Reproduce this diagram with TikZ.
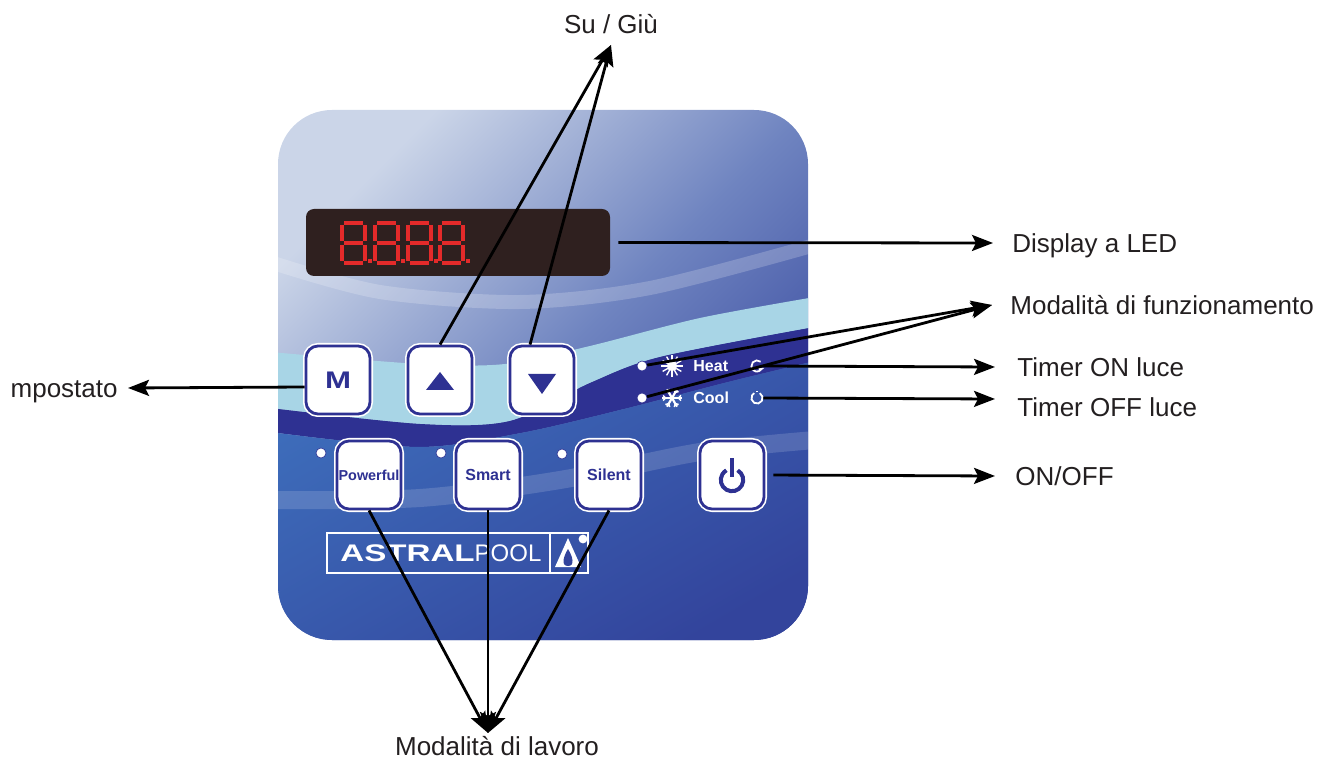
\documentclass[tikz,border=0pt]{standalone}
\usepackage{fontspec}
\setmainfont{Liberation Sans}
\usepackage{graphicx}
\usetikzlibrary{arrows.meta}

\definecolor{blunotte}{HTML}{2E3192}
\definecolor{azzurro}{HTML}{A8D5E6}
\definecolor{cielo}{HTML}{CBD5E8}
\definecolor{mare}{HTML}{6F84C0}
\definecolor{fondale}{HTML}{33449C}
\definecolor{onda}{HTML}{3D6CBA}
\definecolor{schermo}{HTML}{2F201F}
\definecolor{rossoled}{HTML}{E42A2A}
\definecolor{scritta}{HTML}{231F20}

\tikzset{
  tasto/.style={draw=blunotte, line width=1.4pt, fill=white, rounded corners=6pt,
    minimum width=32pt, minimum height=34pt, inner sep=0pt,
    preaction={draw=white, line width=3pt},
    text=blunotte, font=\fontsize{8}{9}\selectfont\bfseries},
  freccia/.style={draw=black, line width=1.4pt, -{Stealth[length=10.5pt,width=8pt,inset=2pt]}},
  etichetta/.style={text=scritta, font=\fontsize{13}{15}\selectfont,
    inner sep=0pt, text height=9.3pt, text depth=0pt},
  spia/.style={circle, fill=white, draw=blunotte, line width=.3pt,
    inner sep=0pt, minimum size=5pt},
  segmento/.style={draw=rossoled, line width=2pt},
  icona/.style={draw=white, line width=.9pt},
}

\begin{document}
\begin{tikzpicture}[x=0.5pt, y=-0.5pt]
  \useasboundingbox (0,0) rectangle (1321,758);

  %disegno pannello
  \shade[rounded corners=27pt, top color=cielo, bottom color=fondale, middle color=mare, shading angle=45]
    (278,110) rectangle (808,640);
  \begin{scope}
    \clip[rounded corners=27pt] (278,110) rectangle (808,640);
    %onde: fascia azzurra, fascia blu, fondo
    \fill[azzurro] plot[smooth] coordinates {(270,352) (420,364) (505,364) (590,346) (700,318) (815,297)}
      -- plot[smooth] coordinates {(815,327) (660,357) (590,383) (510,421) (420,424) (270,408)} -- cycle;
    \fill[blunotte] plot[smooth] coordinates {(270,408) (420,424) (510,421) (590,383) (660,357) (815,327)}
      -- plot[smooth] coordinates {(815,361) (728,382) (624,409) (521,433) (418,447) (270,432)} -- cycle;
    \shade[top color=onda, bottom color=fondale, shading angle=30]
      plot[smooth] coordinates {(270,432) (418,447) (521,433) (624,409) (728,382) (815,361)}
      -- (815,650) -- (270,650) -- cycle;
    \draw[white, opacity=.15, line width=9pt] plot[smooth] coordinates {(270,500) (420,498) (560,480) (700,452) (815,440)};
    \draw[white, opacity=.2, line width=7pt] plot[smooth] coordinates {(270,262) (380,292) (520,302) (650,288) (815,245)};
  \end{scope}

  %display a led
  \node[fill=schermo, rounded corners=4pt, minimum width=152pt, minimum height=33.5pt, inner sep=0pt] (display) at (458,242.5) {};
  \foreach \x in {342,375,408,440} {
    \draw[segmento] (\x+2,223) -- ++(19,0);
    \draw[segmento] (\x+2,243) -- ++(19,0);
    \draw[segmento] (\x+2,263) -- ++(19,0);
    \draw[segmento] (\x,225) -- ++(0,16) (\x+23,225) -- ++(0,16);
    \draw[segmento] (\x,245) -- ++(0,16) (\x+23,245) -- ++(0,16);
    \fill[rossoled] (\x+26,259) rectangle ++(4,4);
  }

  %tasti
  \node[tasto, font=\fontsize{12}{13}\selectfont\bfseries] (tastoM) at (338,380) {\scalebox{1.3}[1]{M}};
  \node[tasto] (tastoSu) at (440,380) {};
  \node[tasto] (tastoGiu) at (542,380) {};
  \fill[blunotte] ([yshift=-5pt]tastoSu.center) ++(-7pt,0) -- ++(14pt,0) -- ++(-7pt,9pt) -- cycle;
  \fill[blunotte] ([yshift=3pt]tastoGiu.center) ++(-7pt,0) -- ++(14pt,0) -- ++(-7pt,-10pt) -- cycle;
  \node[tasto, font=\fontsize{7.2}{8}\selectfont\bfseries] (powerful) at (369,475) {Powerful};
  \node[tasto] (smart) at (488,475) {Smart};
  \node[tasto] (silent) at (609,475) {Silent};
  \node[tasto] (accensione) at (732,475) {};
  \draw[blunotte, line width=2pt] ([yshift=-2.5pt]accensione.center) ++(60:5.6pt) arc[start angle=60, end angle=-240, radius=5.6pt];
  \draw[blunotte, line width=2pt] ([yshift=-1pt]accensione.center) -- ([yshift=8.5pt]accensione.center);

  %spie
  \node[spia] (spiaPowerful) at (321,453) {};
  \node[spia] (spiaSmart) at (441,453) {};
  \node[spia] (spiaSilent) at (562,454) {};
  \node[spia] (spiaHeat) at (642,366) {};
  \node[spia] (spiaCool) at (642,398) {};

  %heat / cool e icone timer
  \fill[white] (672,366) circle (2.6pt);
  \foreach \a in {0,30,...,330}
    \draw[icona, line width=.7pt] (672,366) ++(\a:2.4pt) -- ++(\a:3pt);
  \foreach \a in {0,60,120} {
    \draw[icona, line width=1.1pt] (672,398) ++(\a:5pt) -- ++(\a+180:10pt);
    \draw[icona, line width=.7pt] (672,398) ++(\a:3.2pt) -- ++(\a+45:1.8pt);
    \draw[icona, line width=.7pt] (672,398) ++(\a:3.2pt) -- ++(\a-45:1.8pt);
    \draw[icona, line width=.7pt] (672,398) ++(\a+180:3.2pt) -- ++(\a+225:1.8pt);
    \draw[icona, line width=.7pt] (672,398) ++(\a+180:3.2pt) -- ++(\a+135:1.8pt);
  }
  \node[text=white, font=\fontsize{8}{9}\selectfont\bfseries, anchor=west, inner sep=0pt] (heat) at (693,366) {Heat};
  \node[text=white, font=\fontsize{8}{9}\selectfont\bfseries, anchor=west, inner sep=0pt] (cool) at (693,398) {Cool};
  \node[inner sep=0pt, minimum size=6pt] (timerOn) at (757,366) {};
  \node[inner sep=0pt, minimum size=6pt] (timerOff) at (757,398) {};
  \draw[icona] (timerOn) ++(50:2.8pt) arc[start angle=50, end angle=330, radius=2.8pt] -- ++(-1.6pt,0);
  \draw[icona] (timerOff) ++(60:2.8pt) arc[start angle=60, end angle=-240, radius=2.8pt];
  \draw[icona] (timerOff) -- ++(0,3.4pt);

  %logo
  \draw[white, line width=1pt] (327,533) rectangle (588,573);
  \draw[white, line width=1pt] (550,533) -- (550,573);
  \node[text=white, anchor=west, inner sep=0pt, text depth=0pt, font=\fontsize{12}{13}\selectfont] (logo) at (340,553)
    {\scalebox{1.38}[1]{\bfseries ASTRAL}POOL};
  \fill[white] (555,567) -- (568,538) -- (581,567) -- cycle;
  \fill[fondale] (568,549) .. controls (563,557) and (561,566) .. (568,566) .. controls (575,566) and (573,557) .. (568,549);
  \fill[white] (583,539) circle (2.2pt);

  %etichette
  \node[etichetta, anchor=south, inner ysep=5.5pt] (lblSuGiu) at (611,45) {Su / Giù};
  \node[etichetta, anchor=west, inner xsep=9.5pt] (lblDisplay) at (993,243) {Display a LED};
  \node[etichetta, anchor=west, inner xsep=9pt] (lblFunz) at (992,305) {Modalità di funzionamento};
  \node[etichetta, anchor=west, inner xsep=11pt] (lblTimerOn) at (995,367) {Timer ON luce};
  \node[etichetta, anchor=west, inner xsep=11pt] (lblTimerOff) at (995,407) {Timer OFF luce};
  \node[etichetta, anchor=west, inner xsep=10pt] (lblOnOff) at (995,476) {ON/OFF};
  \node[etichetta, anchor=east, inner xsep=5pt] (lblImp) at (128,388) {mpostato};
  \node[etichetta, anchor=north, inner ysep=1.5pt] (lblLavoro) at (497,733) {Modalità di lavoro};

  %frecce
  \draw[freccia] (tastoSu.north) -- (lblSuGiu.south);
  \draw[freccia] ([xshift=-6pt]tastoGiu.north) -- (lblSuGiu.south);
  \draw[freccia, shorten <=4pt] (display.east) -- (lblDisplay.west);
  \draw[freccia] (spiaHeat) -- (lblFunz.west);
  \draw[freccia] (spiaCool) -- (lblFunz.west);
  \draw[freccia] (timerOn.east) -- (lblTimerOn.west);
  \draw[freccia] (timerOff.east) -- ([yshift=4pt]lblTimerOff.west);
  \draw[freccia, shorten <=4pt] (accensione.east) -- (lblOnOff.west);
  \draw[freccia] ([yshift=-3.5pt]tastoM.west) -- (lblImp.east);
  \draw[freccia] (powerful.south) -- ([xshift=-4.5pt]lblLavoro.north);
  \draw[freccia] (smart.south) -- ([xshift=-4.5pt]lblLavoro.north);
  \draw[freccia] (silent.south) -- ([xshift=-4.5pt]lblLavoro.north);
\end{tikzpicture}
\end{document}
